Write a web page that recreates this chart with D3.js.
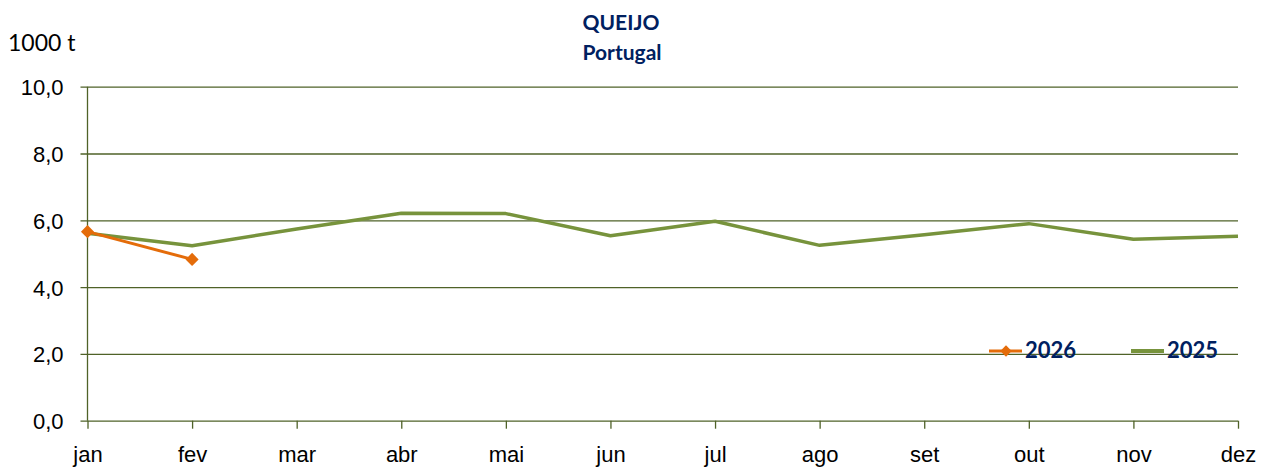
<!DOCTYPE html>
<html lang="pt">
<head>
    <meta charset="UTF-8">
    <title>Queijo - Portugal</title>
    <script src="https://d3js.org/d3.v7.min.js"></script>
    <style>
        body { margin: 0; background: #fff; }
        svg { display: block; font-family: Lato, "Open Sans", sans-serif; }
        .tick text { font-size: 22px; fill: #000; }
    </style>
</head>
<body>
    <svg width="1265" height="468"></svg>
    <script>
        const months = ["jan", "fev", "mar", "abr", "mai", "jun", "jul", "ago", "set", "out", "nov", "dez"];
        const values2025 = [5.61, 5.24, 5.74, 6.21, 6.20, 5.54, 5.97, 5.25, 5.57, 5.90, 5.43, 5.52];
        const values2026 = [5.66, 4.83];
        const yTicks = [0, 2, 4, 6, 8, 10];

        const gridColor = "#4f6228";
        const navy = "#002060";
        const green = "#77933c";
        const orange = "#e46c0a";

        const plotLeft = 87.5, plotRight = 1238, plotTop = 86.7, plotBottom = 420.7;

        const svg = d3.select("svg");

        const x = d3.scalePoint().domain(months).range([plotLeft, plotRight]);
        const y = d3.scaleLinear().domain([0, 10]).range([plotBottom, plotTop]);
        const fmt = d => d3.format(".1f")(d).replace(".", ",");

        // y axis + gridlines
        const yAxis = svg.append("g")
            .attr("transform", `translate(${plotLeft},0)`)
            .call(d3.axisLeft(y).tickValues(yTicks).tickFormat(fmt).tickSize(0).tickPadding(24));
        yAxis.select(".domain").remove();
        yAxis.selectAll(".tick line")
            .attr("x1", -7).attr("x2", plotRight - plotLeft)
            .attr("stroke", gridColor).attr("stroke-width", 1.3);
        yAxis.selectAll(".tick text").attr("dy", "0.36em");

        // vertical axis line
        svg.append("line")
            .attr("x1", plotLeft).attr("x2", plotLeft)
            .attr("y1", y(10)).attr("y2", y(0))
            .attr("stroke", gridColor).attr("stroke-width", 1.3);

        // x axis
        const xAxis = svg.append("g")
            .attr("transform", `translate(0,${plotBottom})`)
            .call(d3.axisBottom(x).tickSize(8).tickSizeOuter(0).tickPadding(18));
        xAxis.select(".domain").remove();
        xAxis.selectAll(".tick line").attr("stroke", gridColor).attr("stroke-width", 1.3);
        xAxis.selectAll(".tick text").attr("dy", "0.7em");

        const line = d3.line()
            .x((d, i) => x(months[i]))
            .y(d => y(d));

        svg.append("path")
            .datum(values2025)
            .attr("d", line)
            .attr("fill", "none")
            .attr("stroke", green)
            .attr("stroke-width", 3.5)
            .attr("stroke-linejoin", "round");

        svg.append("path")
            .datum(values2026)
            .attr("d", line)
            .attr("fill", "none")
            .attr("stroke", orange)
            .attr("stroke-width", 3);

        const diamond = d3.symbol().type(d3.symbolSquare).size(86);
        svg.selectAll("path.m2026")
            .data(values2026)
            .enter().append("path")
            .attr("class", "m2026")
            .attr("d", diamond)
            .attr("fill", orange)
            .attr("transform", (d, i) => `translate(${x(months[i])},${y(d)}) rotate(45)`);

        // titles
        svg.append("text")
            .attr("x", 621).attr("y", 30)
            .attr("text-anchor", "middle")
            .attr("font-size", 21).attr("font-weight", "bold")
            .attr("fill", navy)
            .text("QUEIJO");
        svg.append("text")
            .attr("x", 622).attr("y", 60)
            .attr("text-anchor", "middle")
            .attr("font-size", 21).attr("font-weight", "bold")
            .attr("fill", navy)
            .text("Portugal");

        svg.append("text")
            .attr("x", 8).attr("y", 51)
            .attr("font-size", 23)
            .attr("fill", "#000")
            .text("1000 t");

        // legend
        const legend = [
            {name: "2026", color: orange, x0: 989, marker: true, w: 3},
            {name: "2025", color: green, x0: 1131, marker: false, w: 4}
        ];
        const lg = svg.selectAll("g.legend")
            .data(legend)
            .enter().append("g")
            .attr("class", "legend")
            .attr("transform", d => `translate(${d.x0},351)`);
        lg.append("line")
            .attr("x1", 0).attr("x2", 33)
            .attr("stroke", d => d.color)
            .attr("stroke-width", d => d.w);
        lg.filter(d => d.marker).append("path")
            .attr("d", d3.symbol().type(d3.symbolSquare).size(64))
            .attr("fill", d => d.color)
            .attr("transform", "translate(17,0) rotate(45)");
        lg.append("text")
            .attr("x", 36).attr("y", 7)
            .attr("font-size", 22).attr("font-weight", "bold")
            .attr("fill", navy)
            .text(d => d.name);
    </script>
</body>
</html>
